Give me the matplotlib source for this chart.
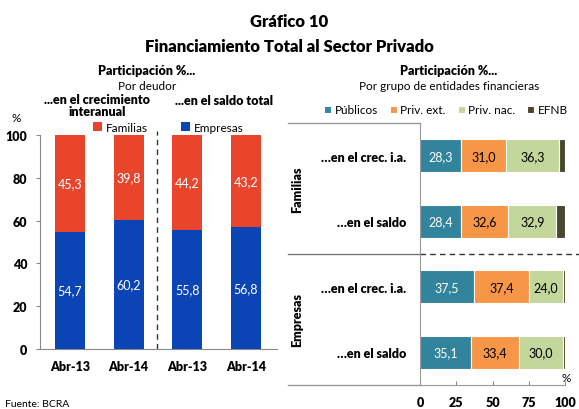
import matplotlib.pyplot as plt
import numpy as np

plt.rcParams['font.family'] = ['Lato', 'DejaVu Sans']
BOLD = "heavy"

# left panel: share by debtor
periods = ["Abr-13", "Abr-14", "Abr-13", "Abr-14"]
empresas = [54.7, 60.2, 55.8, 56.8]
familias = [45.3, 39.8, 44.2, 43.2]

# right panel: share by group of financial entities
rows = ["…en el crec. i.a.", "…en el saldo", "…en el crec. i.a.", "…en el saldo"]
groups = ["Familias", "Empresas"]
publicos = [28.3, 28.4, 37.5, 35.1]
priv_ext = [31.0, 32.6, 37.4, 33.4]
priv_nac = [36.3, 32.9, 24.0, 30.0]
efnb = [4.4, 6.1, 1.1, 1.5]

c_fam = "#E8452C"
c_emp = "#0B44B4"
seg_colors = ["#31849B", "#F79646", "#C3D69B", "#4A4630"]
seg_names = ["Públicos", "Priv. ext.", "Priv. nac.", "EFNB"]
seg_text = ["white", "black", "black", None]


def fmt(v):
    return f"{v:.1f}".replace(".", ",")


fig = plt.figure(figsize=(5.79, 4.10), dpi=100)

fig.text(0.5, 0.947, "Gráfico 10", ha="center", va="center", fontsize=12, fontweight=BOLD)
fig.text(0.5, 0.886, "Financiamiento Total al Sector Privado", ha="center", va="center",
         fontsize=12, fontweight=BOLD)

# ---------------- left panel ----------------
ax1 = fig.add_axes([40 / 579, 60 / 410, 237 / 579, 214 / 410])
x = np.arange(len(periods))
w = 0.51
ax1.bar(x, empresas, w, color=c_emp, label="Empresas")
ax1.bar(x, familias, w, bottom=empresas, color=c_fam, label="Familias")
for i in range(len(periods)):
    ax1.text(x[i], empresas[i] / 2, fmt(empresas[i]), ha="center", va="center",
             color="white", fontsize=9)
    ax1.text(x[i], empresas[i] + familias[i] / 2, fmt(familias[i]), ha="center",
             va="center", color="white", fontsize=9)
ax1.axvline(1.48, color="#333333", lw=1, ls=(0, (4, 3)), ymin=0, ymax=1.02, clip_on=False)
ax1.set_xlim(-0.51, 3.53)
ax1.set_ylim(0, 100)
ax1.set_yticks(range(0, 101, 20))
ax1.set_xticks(x)
ax1.set_xticklabels(periods, fontweight=BOLD, fontsize=9)
for t in ax1.get_yticklabels():
    t.set_fontweight(BOLD)
    t.set_fontsize(9)
ax1.tick_params(axis="y", length=3, color="#888888", pad=6)
ax1.tick_params(axis="x", length=0, pad=8)
for s in ["top", "right"]:
    ax1.spines[s].set_visible(False)
for s in ["left", "bottom"]:
    ax1.spines[s].set_color("#888888")

fig.text(147 / 579, 1 - 71 / 410, "Participación %...", ha="center", va="center",
         fontsize=9, fontweight=BOLD)
fig.text(147 / 579, 1 - 86 / 410, "Por deudor", ha="center", va="center", fontsize=8.5)
fig.text(97 / 579, 1 - 106 / 410, "...en el crecimiento\ninteranual", ha="center",
         va="center", fontsize=9, fontweight=BOLD, linespacing=0.95)
fig.text(224 / 579, 1 - 101 / 410, "...en el saldo total", ha="center", va="center",
         fontsize=9, fontweight=BOLD)
fig.text(16 / 579, 1 - 119 / 410, "%", ha="center", va="center", fontsize=8.5)
h, l = ax1.get_legend_handles_labels()
fig.legend(h[::-1], l[::-1], loc="center", bbox_to_anchor=(168 / 579, 1 - 128 / 410), ncol=2,
           frameon=False, fontsize=8.5, handlelength=0.8, handleheight=0.8,
           handletextpad=0.3, columnspacing=2.8, borderpad=0)

# ---------------- right panel ----------------
ax2 = fig.add_axes([420 / 579, 24 / 410, 145 / 579, 262 / 410])
y = np.array([3.5, 2.5, 1.5, 0.5])
left = np.zeros(len(rows))
for vals, col, name, tc in zip([publicos, priv_ext, priv_nac, efnb], seg_colors,
                               seg_names, seg_text):
    vals = np.array(vals)
    ax2.barh(y, vals, 0.5, left=left, color=col, edgecolor="white", lw=0.8, label=name)
    if tc:
        for yi, li, v in zip(y, left, vals):
            ax2.text(li + v / 2, yi, fmt(v), ha="center", va="center", color=tc, fontsize=9)
    left = left + vals
ax2.set_xlim(0, 100)
ax2.set_ylim(0, 4)
ax2.set_yticks(y)
ax2.set_yticklabels(rows, fontweight=BOLD, fontsize=9)
ax2.set_xticks([0, 25, 50, 75, 100])
for t in ax2.get_xticklabels():
    t.set_fontweight(BOLD)
    t.set_fontsize(9)
ax2.tick_params(axis="y", length=0, pad=10)
ax2.tick_params(axis="x", direction="in", length=3, color="#888888", pad=8)
for s in ["top", "right"]:
    ax2.spines[s].set_visible(False)
for s in ["left", "bottom"]:
    ax2.spines[s].set_color("#999999")

# table lines around the row labels
xl = (288 - 420) / 145
ax2.plot([xl, 0], [1, 1], transform=ax2.transAxes, color="#999999", lw=1, clip_on=False)
ax2.plot([xl, 0], [0, 0], transform=ax2.transAxes, color="#999999", lw=1, clip_on=False)
ax2.plot([xl, 0], [0.5, 0.5], transform=ax2.transAxes, color="#777777", lw=1, clip_on=False)
ax2.plot([0, 1.097], [0.5, 0.5], transform=ax2.transAxes, color="#333333", lw=1,
         ls=(0, (4, 3)), clip_on=False)
for g, yy in zip(groups, [0.75, 0.25]):
    ax2.text(-0.85, yy, g, transform=ax2.transAxes, rotation=90, ha="center", va="center",
             fontsize=9, fontweight=BOLD)
ax2.text(1.01, 0.03, "%", transform=ax2.transAxes, ha="center", va="center", fontsize=8.5)

fig.text(449 / 579, 1 - 71 / 410, "Participación %...", ha="center", va="center",
         fontsize=9, fontweight=BOLD)
fig.text(449 / 579, 1 - 86 / 410, "Por grupo de entidades financieras", ha="center",
         va="center", fontsize=8.5)
fig.legend(*ax2.get_legend_handles_labels(), loc="center",
           bbox_to_anchor=(446 / 579, 1 - 111 / 410), ncol=4, frameon=False, fontsize=8.5,
           handlelength=0.6, handleheight=0.6, handletextpad=0.3, columnspacing=1.0,
           borderpad=0)

fig.text(5 / 579, 1 - 405 / 410, "Fuente: BCRA", ha="left", va="center", fontsize=7.5)

fig.savefig("out.png", dpi=100)
